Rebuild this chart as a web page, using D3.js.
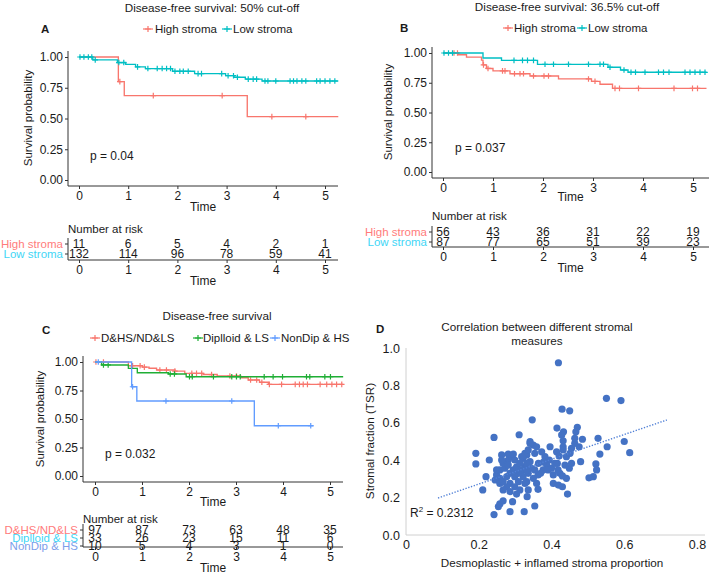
<!DOCTYPE html>
<html><head><meta charset="utf-8">
<script src="https://cdn.jsdelivr.net/npm/d3@7"></script>
<style>body{margin:0;background:#fff} svg{display:block} text{font-family:"Liberation Sans",Arial,Helvetica,sans-serif}</style>
</head><body><svg id="c" width="709" height="578"></svg>
<script>
// ---------------- DATA ----------------
const timeTicks = [0, 1, 2, 3, 4, 5];
const survTicks = [0, 0.25, 0.5, 0.75, 1];

// Panel A
const aTitle = "Disease-free survival: 50% cut-off";
const aLabels = ["High stroma", "Low stroma"];
const aHighT = [0, 0.80, 0.92, 3.42];
const aHighS = [1, 0.80, 0.686, 0.515];
const aHighCens = [0.83, 1.51, 2.91, 3.92, 4.61];
const aLowT = [0, 0.28, 0.78, 0.95, 1.15, 1.35, 1.90, 2.35, 2.98, 3.15, 3.38, 3.72];
const aLowS = [1, 0.977, 0.955, 0.94, 0.92, 0.906, 0.884, 0.865, 0.848, 0.835, 0.82, 0.805];
const aLowCens = [0.02,0.10,0.19,0.26,0.33,0.81,0.91,1.19,1.40,1.59,1.69,1.78,1.86,1.95,2.05,2.12,2.22,2.42,2.49,2.90,3.03,3.14,3.22,3.44,3.54,3.61,3.78,3.84,4.0,4.29,4.36,4.43,4.53,4.61,4.83,4.90,5.0,5.10,5.20];
const aMaxT = [5.27, 5.27];
const aRisk = [[11, 6, 5, 4, 2, 1], [132, 114, 96, 78, 59, 41]];
const aP = "p = 0.04";

// Panel B
const bTitle = "Disease-free survival: 36.5% cut-off";
const bLabels = ["High stroma", "Low stroma"];
const bHighT = [0, 0.31, 0.47, 0.77, 0.80, 0.87, 1.0, 1.34, 1.74, 2.31, 2.97, 3.14, 3.39];
const bHighS = [1, 0.985, 0.965, 0.94, 0.90, 0.87, 0.85, 0.826, 0.807, 0.782, 0.762, 0.737, 0.703];
const bHighCens = [0.22, 0.29, 0.81, 0.90, 1.19, 1.24, 1.43, 1.54, 1.61, 1.81, 2.02, 2.11, 2.91, 3.04, 3.44, 3.53, 3.91, 4.62, 4.99, 5.09];
const bLowT = [0, 0.80, 1.17, 1.89, 3.30, 3.55, 3.70];
const bLowS = [1, 0.958, 0.938, 0.905, 0.88, 0.857, 0.838];
const bLowCens = [0.02, 0.11, 0.19, 1.42, 1.59, 1.69, 1.81, 2.04, 2.21, 2.51, 2.91, 3.14, 3.21, 3.34, 3.62, 3.76, 3.85, 4.04, 4.31, 4.41, 4.52, 4.84, 4.94, 5.04, 5.14, 5.24];
const bMaxT = [5.27, 5.27];
const bRisk = [[56, 43, 36, 31, 22, 19], [87, 77, 65, 51, 39, 23]];
const bP = "p = 0.037";

// Panel C
const cTitle = "Disease-free survival";
const cLabels = ["D&HS/ND&LS", "Diplloid & LS", "NonDip & HS"];
const cRedT = [0, 0.71, 1.01, 1.15, 1.31, 1.70, 1.91, 2.30, 2.60, 3.10, 3.26, 3.50, 3.69];
const cRedS = [1, 0.967, 0.955, 0.945, 0.93, 0.92, 0.90, 0.89, 0.877, 0.862, 0.842, 0.822, 0.804];
const cRedCens = [0.02, 0.18, 0.80, 0.96, 1.05, 1.38, 1.52, 1.70, 2.06, 2.16, 2.27, 2.48, 2.87, 3.01, 3.31, 3.44, 3.55, 3.71, 3.97, 4.26, 4.35, 4.43, 4.52, 4.79, 4.93, 5.04, 5.14, 5.25];
const cGreenT = [0, 0.14, 0.71, 0.90, 1.56, 1.94];
const cGreenS = [1, 0.974, 0.944, 0.906, 0.895, 0.871];
const cGreenCens = [0.18, 0.28, 1.60, 1.69, 2.01, 2.07, 2.52, 2.91, 3.01, 3.09, 3.60, 3.79, 3.99, 4.50, 4.57, 4.89, 5.01];
const cBlueT = [0, 0.78, 0.89, 3.39];
const cBlueS = [1, 0.783, 0.658, 0.441];
const cBlueCens = [0.07, 0.80, 1.51, 2.91, 3.90, 4.59];
const cMaxT = [5.28, 5.28, 4.65];
const cRisk = [[97, 87, 73, 63, 48, 35], [33, 26, 23, 15, 11, 6], [10, 5, 4, 3, 1, 0]];
const cP = "p = 0.032";

// Panel D
const dTitle = ["Correlation between different stromal", "measures"];
const dXTicks = [0, 0.2, 0.4, 0.6, 0.8];
const dYTicks = [0, 0.2, 0.4, 0.6, 0.8, 1.0];
const dX = [0.419,0.551,0.591,0.429,0.450,0.347,0.415,0.471,0.433,0.467,0.242,0.311,0.485,0.528,0.600,0.553,0.615,0.533,
  0.432,0.432,0.414,0.396,0.455,0.476,0.464,0.480,0.522,0.503,0.515,0.444,0.405,0.419,0.430,0.441,0.449,0.455,0.437,0.423,0.416,0.421,0.441,0.451,0.394,0.382,0.387,0.377,0.363,0.350,0.359,0.363,0.333,0.354,0.325,0.341,0.350,0.359,0.373,0.354,0.332,0.322,0.341,0.327,0.345,0.336,0.322,0.332,0.318,0.400,0.405,0.430,0.432,0.464,0.428,0.524,
  0.192,0.192,0.229,0.220,0.211,0.242,0.254,0.258,0.267,0.286,0.293,0.304,
  0.249,0.258,0.245,0.258,0.267,0.277,0.286,0.295,0.304,0.281,0.290,0.299,0.267,0.258,0.272,0.286,0.299,0.309,0.318,0.332,0.327,0.336,0.341,0.318,0.309,0.299,0.277,0.267,0.286,0.249,0.263,0.281,0.313,0.332,0.327,0.336,0.313,
  0.263,0.281,0.295,0.391,0.370,0.354,0.364,0.378,0.418,0.409];
const dY = [0.921,0.731,0.719,0.673,0.664,0.616,0.572,0.576,0.552,0.552,0.522,0.536,0.512,0.517,0.500,0.472,0.440,0.433,
  0.504,0.472,0.445,0.472,0.464,0.472,0.490,0.392,0.380,0.306,0.312,0.219,0.276,0.267,0.258,0.303,0.357,0.383,0.374,0.330,0.383,0.422,0.419,0.437,0.401,0.419,0.374,0.348,0.321,0.303,0.276,0.244,0.205,0.155,0.125,0.499,0.481,0.472,0.445,0.437,0.428,0.410,0.392,0.365,0.357,0.330,0.312,0.285,0.339,0.357,0.321,0.316,0.455,0.517,0.535,0.348,
  0.437,0.380,0.401,0.312,0.241,0.109,0.152,0.166,0.183,0.125,0.178,0.219,
  0.321,0.303,0.294,0.276,0.285,0.312,0.330,0.348,0.365,0.401,0.419,0.401,0.383,0.348,0.357,0.276,0.258,0.285,0.348,0.383,0.437,0.455,0.490,0.419,0.330,0.312,0.258,0.241,0.232,0.348,0.401,0.374,0.383,0.348,0.276,0.241,0.241,
  0.428,0.433,0.433,0.348,0.330,0.348,0.383,0.390,0.348,0.383];
const dTrendX = [0.088, 0.717];
const dTrendY = [0.198, 0.615];
const dR2 = "0.2312";
const dXTitle = "Desmoplastic + inflamed stroma proportion";
const dYTitle = "Stromal fraction (TSR)";

// ---------------- DRAWING ----------------
const svg = d3.select("#c");
const INK = "#1a1a1a";
const AX = "#333";

function addText(g, x, y, str, o = {}) {
  return g.append("text").attr("x", x).attr("y", y).attr("dy", "0.35em")
    .attr("text-anchor", o.anchor || "start").attr("font-size", o.size || 12)
    .attr("fill", o.color || INK).attr("font-weight", o.weight || "normal").text(str);
}
function plus(g, cx, cy, color, r = 3) {
  g.append("path").attr("d", `M${cx - r},${cy}H${cx + r}M${cx},${cy - r}V${cy + r}`)
    .attr("stroke", color).attr("stroke-width", 1.2).attr("fill", "none");
}
function survAt(T, S, t) { let s = S[0]; for (let i = 0; i < T.length; i++) if (T[i] <= t) s = S[i]; return s; }
function styleAxis(a, size) {
  a.attr("font-family", null).attr("font-size", null);
  a.select(".domain").remove();
  a.selectAll(".tick line").attr("stroke", AX);
  a.selectAll(".tick text").attr("fill", INK).attr("font-size", size);
}

function drawKM(c) {
  const g = svg.append("g");
  const x = d3.scaleLinear().domain([0, 5]).range([c.x0, c.x5]);
  const y = d3.scaleLinear().domain([0, 1]).range([c.y0, c.y1]);
  addText(g, c.titleX, c.titleY, c.title, { anchor: "middle", size: 11.7 });
  addText(g, c.letterX, c.letterY, c.letter, { weight: "bold", size: 11.5 });
  c.groups.forEach(gr => {
    g.append("line").attr("x1", gr.legPlus - 5).attr("x2", gr.legPlus + 5)
      .attr("y1", c.legY).attr("y2", c.legY).attr("stroke", gr.color).attr("stroke-width", 1.2);
    plus(g, gr.legPlus, c.legY, gr.color);
    addText(g, gr.legText, c.legY, gr.name, { size: 11.5 });
  });
  // axes
  g.append("line").attr("x1", c.plotL).attr("x2", c.plotL).attr("y1", c.plotT).attr("y2", c.plotB).attr("stroke", AX);
  g.append("line").attr("x1", c.plotL).attr("x2", c.plotR).attr("y1", c.plotB).attr("y2", c.plotB).attr("stroke", AX);
  const ya = g.append("g").attr("transform", `translate(${c.plotL},0)`)
    .call(d3.axisLeft(y).tickValues(survTicks).tickFormat(d3.format(".2f")).tickSize(3).tickPadding(2));
  styleAxis(ya, 12);
  const xa = g.append("g").attr("transform", `translate(0,${c.plotB})`)
    .call(d3.axisBottom(x).tickValues(timeTicks).tickFormat(d3.format("d")).tickSize(3).tickPadding(2));
  styleAxis(xa, 12);
  addText(g, (c.plotL + c.plotR) / 2, c.timeY, "Time", { anchor: "middle", size: 12 });
  g.append("text").attr("transform", `translate(${c.yTitleX},${c.yTitleY}) rotate(-90)`)
    .attr("dy", "0.35em").attr("text-anchor", "middle").attr("font-size", 11.5).attr("fill", INK).text("Survival probability");
  // curves
  const line = d3.line().x(d => x(d[0])).y(d => y(d[1])).curve(d3.curveStepAfter);
  c.groups.forEach(gr => {
    const pts = gr.T.map((t, i) => [t, gr.S[i]]);
    pts.push([gr.maxT, gr.S[gr.S.length - 1]]);
    g.append("path").attr("d", line(pts)).attr("fill", "none").attr("stroke", gr.color).attr("stroke-width", 1.35);
    gr.cens.forEach(t => plus(g, x(t), y(survAt(gr.T, gr.S, t)), gr.color, 2.8));
  });
  addText(g, c.pX, c.pY, c.p, { size: 12 });
  // risk table
  addText(g, c.plotL, c.riskTitleY, "Number at risk", { size: 11.5 });
  g.append("line").attr("x1", c.plotL).attr("x2", c.plotL).attr("y1", c.riskTop).attr("y2", c.riskAxisY).attr("stroke", AX);
  g.append("line").attr("x1", c.plotL).attr("x2", c.plotR).attr("y1", c.riskAxisY).attr("y2", c.riskAxisY).attr("stroke", AX);
  c.groups.forEach((gr, i) => {
    const ry = c.riskRows[i];
    g.append("line").attr("x1", c.plotL - 3).attr("x2", c.plotL).attr("y1", ry).attr("y2", ry).attr("stroke", AX);
    addText(g, c.plotL - 5, ry, gr.name, { anchor: "end", size: 11.5, color: gr.riskColor });
    gr.risk.forEach((n, j) => addText(g, x(timeTicks[j]), ry, n, { anchor: "middle", size: 12 }));
  });
  const ra = g.append("g").attr("transform", `translate(0,${c.riskAxisY})`)
    .call(d3.axisBottom(x).tickValues(timeTicks).tickFormat(d3.format("d")).tickSize(3).tickPadding(2));
  styleAxis(ra, 12);
  addText(g, (c.plotL + c.plotR) / 2, c.riskTimeY, "Time", { anchor: "middle", size: 12 });
}

const RED = "#F8766D", TEAL = "#00BFC4", GREEN = "#1FAE35", BLUE = "#619CFF";
const RRED = "#FF7B7B", RCYAN = "#3FD6F6", RBLUE = "#7C9EEA";

drawKM({
  title: aTitle, titleX: 212, titleY: 8, letter: "A", letterX: 41, letterY: 29, legY: 29,
  x0: 79, x5: 325, plotL: 68, plotR: 338, y0: 180, y1: 57, plotT: 51, plotB: 186,
  yTitleX: 28, yTitleY: 118, timeY: 207, pX: 90, pY: 156, p: aP,
  riskTitleY: 229, riskRows: [244, 254], riskTop: 238, riskAxisY: 260, riskTimeY: 281,
  groups: [
    { name: aLabels[0], color: RED, riskColor: RRED, legPlus: 148, legText: 155, T: aHighT, S: aHighS, cens: aHighCens, maxT: aMaxT[0], risk: aRisk[0] },
    { name: aLabels[1], color: TEAL, riskColor: RCYAN, legPlus: 227, legText: 233, T: aLowT, S: aLowS, cens: aLowCens, maxT: aMaxT[1], risk: aRisk[1] }
  ]
});
drawKM({
  title: bTitle, titleX: 567, titleY: 7, letter: "B", letterX: 400, letterY: 28, legY: 28,
  x0: 443, x5: 693, plotL: 432, plotR: 709, y0: 172, y1: 53, plotT: 47, plotB: 178,
  yTitleX: 388, yTitleY: 112, timeY: 197, pX: 455, pY: 148, p: bP,
  riskTitleY: 216, riskRows: [232, 242], riskTop: 226, riskAxisY: 247, riskTimeY: 268,
  groups: [
    { name: bLabels[0], color: RED, riskColor: RRED, legPlus: 508, legText: 514, T: bHighT, S: bHighS, cens: bHighCens, maxT: bMaxT[0], risk: bRisk[0] },
    { name: bLabels[1], color: TEAL, riskColor: RCYAN, legPlus: 582, legText: 588, T: bLowT, S: bLowS, cens: bLowCens, maxT: bMaxT[1], risk: bRisk[1] }
  ]
});
drawKM({
  title: cTitle, titleX: 217, titleY: 316, letter: "C", letterX: 42, letterY: 330, legY: 338,
  x0: 95, x5: 330, plotL: 83, plotR: 343, y0: 476, y1: 362, plotT: 356, plotB: 482,
  yTitleX: 40, yTitleY: 419, timeY: 502, pX: 105, pY: 454, p: cP,
  riskTitleY: 519, riskRows: [530, 538, 546], riskTop: 524, riskAxisY: 547, riskTimeY: 568,
  groups: [
    { name: cLabels[0], color: RED, riskColor: RRED, legPlus: 95, legText: 101, T: cRedT, S: cRedS, cens: cRedCens, maxT: cMaxT[0], risk: cRisk[0] },
    { name: cLabels[1], color: GREEN, riskColor: RCYAN, legPlus: 198, legText: 203, T: cGreenT, S: cGreenS, cens: cGreenCens, maxT: cMaxT[1], risk: cRisk[1] },
    { name: cLabels[2], color: BLUE, riskColor: RBLUE, legPlus: 275, legText: 281, T: cBlueT, S: cBlueS, cens: cBlueCens, maxT: cMaxT[2], risk: cRisk[2] }
  ]
});

// Panel D
(function () {
  const g = svg.append("g");
  const DBLUE = "#4472C4";
  const x = d3.scaleLinear().domain([0, 0.8]).range([406, 697]);
  const y = d3.scaleLinear().domain([0, 1]).range([535, 348]);
  addText(g, 537, 327, dTitle[0], { anchor: "middle", size: 11.7 });
  addText(g, 537, 341, dTitle[1], { anchor: "middle", size: 11.7 });
  addText(g, 376, 329, "D", { weight: "bold", size: 11.5 });
  g.append("line").attr("x1", x(0)).attr("x2", x(0)).attr("y1", y(1)).attr("y2", y(0)).attr("stroke", "#d0d0d0");
  g.append("line").attr("x1", x(0)).attr("x2", x(0.8) + 8).attr("y1", y(0)).attr("y2", y(0)).attr("stroke", "#d0d0d0");
  const ya = g.append("g").attr("transform", `translate(${x(0)},0)`)
    .call(d3.axisLeft(y).tickValues(dYTicks).tickFormat(d3.format(".1f")).tickSize(0).tickPadding(6));
  styleAxis(ya, 12.5);
  const xa = g.append("g").attr("transform", `translate(0,${y(0)})`)
    .call(d3.axisBottom(x).tickValues(dXTicks).tickFormat(d => d === 0 ? "0" : d3.format(".1f")(d)).tickSize(0).tickPadding(5));
  styleAxis(xa, 12.5);
  g.selectAll("circle").data(dX).enter().append("circle")
    .attr("cx", d => x(d)).attr("cy", (d, i) => y(dY[i])).attr("r", 3.6).attr("fill", DBLUE);
  g.append("line").attr("x1", x(dTrendX[0])).attr("x2", x(dTrendX[1]))
    .attr("y1", y(dTrendY[0])).attr("y2", y(dTrendY[1]))
    .attr("stroke", "#4f7fd6").attr("stroke-width", 1.4).attr("stroke-dasharray", "1.3,1.6");
  const r2 = g.append("text").attr("x", 410).attr("y", 517).attr("font-size", 12).attr("fill", INK);
  r2.append("tspan").text("R");
  r2.append("tspan").attr("font-size", 8).attr("dy", -5).text("2");
  r2.append("tspan").attr("dy", 5).text(" = " + dR2);
  addText(g, 552, 563, dXTitle, { anchor: "middle", size: 11.7 });
  g.append("text").attr("transform", "translate(370,441) rotate(-90)").attr("dy", "0.35em")
    .attr("text-anchor", "middle").attr("font-size", 11.7).attr("fill", INK).text(dYTitle);
})();
</script></body></html>
